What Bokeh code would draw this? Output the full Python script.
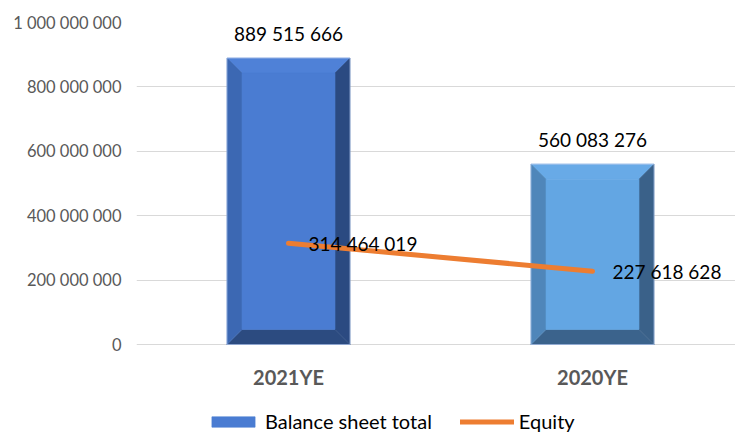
from bokeh.plotting import figure
from bokeh.models import ColumnDataSource, Range1d, FixedTicker, Legend, LegendItem
from bokeh.core.properties import value
from bokeh.embed import file_html
from bokeh.resources import INLINE

# ---- data ----
categories = ["2021YE", "2020YE"]
balance_sheet_total = [889515666, 560083276]
equity = [314464019, 227618628]
y_ticks = [0, 200000000, 400000000, 600000000, 800000000, 1000000000]
y_tick_labels = ["0", "200 000 000", "400 000 000", "600 000 000", "800 000 000", "1 000 000 000"]

# ---- styles ----
face_colors = ["#4A7CD2", "#63A6E3"]
top_colors = ["#4F81D7", "#68AAE7"]
left_colors = ["#3C68B3", "#4F86BA"]
right_colors = ["#2B4A81", "#3A6189"]
bottom_colors = ["#2C4B80", "#3B638C"]
FONT = "Lato"

W, H = 735, 435
BL, BT = 136, 22
plot_h = 322          # pixels from value 0 to top tick
below_px = H - BT - plot_h   # space under the zero line, inside frame
frame_w = W - BL
step_px = 304
x_end = frame_w / step_px
y_per_px = y_ticks[-1] / plot_h
bar_w = 123 / step_px
bev_x = 15 / step_px
bev_y = 15 * y_per_px

def fmt(v):
    return f"{v:,}".replace(",", " ")

xc = [0.5 + i for i in range(len(categories))]

p = figure(width=W, height=H, output_backend="svg", toolbar_location=None,
           x_axis_location=None,
           x_range=Range1d(0, x_end), y_range=Range1d(-below_px * y_per_px, y_ticks[-1]),
           min_border_left=BL, min_border_right=0, min_border_top=BT, min_border_bottom=0)
p.outline_line_color = None
p.background_fill_color = "white"
p.border_fill_color = "white"

# y axis
p.yaxis.ticker = FixedTicker(ticks=y_ticks)
p.yaxis.major_label_overrides = {t: l for t, l in zip(y_ticks, y_tick_labels)}
p.yaxis.axis_line_color = None
p.yaxis.major_tick_line_color = None
p.yaxis.minor_tick_line_color = None
p.yaxis.major_label_text_font = FONT
p.yaxis.major_label_text_font_size = "16.5px"
p.yaxis.major_label_text_color = "#595959"
p.yaxis.major_label_standoff = 9

p.xgrid.grid_line_color = None
p.ygrid.ticker = FixedTicker(ticks=y_ticks)
p.ygrid.grid_line_color = "#D9D9D9"
p.ygrid.grid_line_width = 1

# category labels under the zero line
p.text(x=xc, y=[0] * len(xc), text=categories, y_offset=32, text_align="center", text_baseline="middle",
       text_font=value(FONT), text_font_size="20px", text_font_style="bold", text_color="#595959")

# bevelled bars
L = [x - bar_w / 2 for x in xc]
R = [x + bar_w / 2 for x in xc]
T = balance_sheet_total

def patch_src(kind, colors):
    xs, ys = [], []
    for l, r, t in zip(L, R, T):
        if kind == "top":
            xs.append([l, r, r - bev_x, l + bev_x]); ys.append([t, t, t - bev_y, t - bev_y])
        elif kind == "bottom":
            xs.append([l, r, r - bev_x, l + bev_x]); ys.append([0, 0, bev_y, bev_y])
        elif kind == "left":
            xs.append([l, l, l + bev_x, l + bev_x]); ys.append([0, t, t - bev_y, bev_y])
        else:
            xs.append([r, r, r - bev_x, r - bev_x]); ys.append([0, t, t - bev_y, bev_y])
    return ColumnDataSource(dict(xs=xs, ys=ys, c=colors))

for kind, cols in [("bottom", bottom_colors), ("top", top_colors), ("left", left_colors), ("right", right_colors)]:
    p.patches("xs", "ys", source=patch_src(kind, cols), fill_color="c", line_color="c", line_width=0.6)

face_src = ColumnDataSource(dict(l=[l + bev_x for l in L], r=[r - bev_x for r in R],
                                 b=[bev_y] * len(T), t=[t - bev_y for t in T], c=face_colors))
face_r = p.quad(left="l", right="r", bottom="b", top="t", source=face_src, fill_color="c", line_color="c",
                line_width=0.6)

p.vbar(x=xc, top=T, width=bar_w, fill_color=None, line_color="#A9C1EA", line_alpha=0.7, line_width=1)

# data labels for bars
p.text(x=xc, y=T, text=[fmt(v) for v in T], y_offset=-25, text_align="center", text_baseline="middle",
       text_font=value(FONT), text_font_size="19px", text_color="#000000")

# equity line
eq_r = p.line(xc, equity, line_color="#ED7D31", line_width=5, line_cap="round")
p.text(x=xc, y=equity, text=[fmt(v) for v in equity], x_offset=20, text_align="left", text_baseline="middle",
       text_font=value(FONT), text_font_size="19px", text_color="#000000")

legend = Legend(items=[LegendItem(label="Balance sheet total", renderers=[face_r], index=0),
                       LegendItem(label="Equity", renderers=[eq_r])],
                orientation="horizontal", location=(70, 2), glyph_width=54, glyph_height=13,
                label_standoff=5, spacing=28, padding=0, margin=0,
                border_line_color=None, background_fill_alpha=0,
                label_text_font=FONT, label_text_font_size="20px", label_text_color="#000000")
p.add_layout(legend)

open("out.html", "w").write(file_html(p, INLINE))
